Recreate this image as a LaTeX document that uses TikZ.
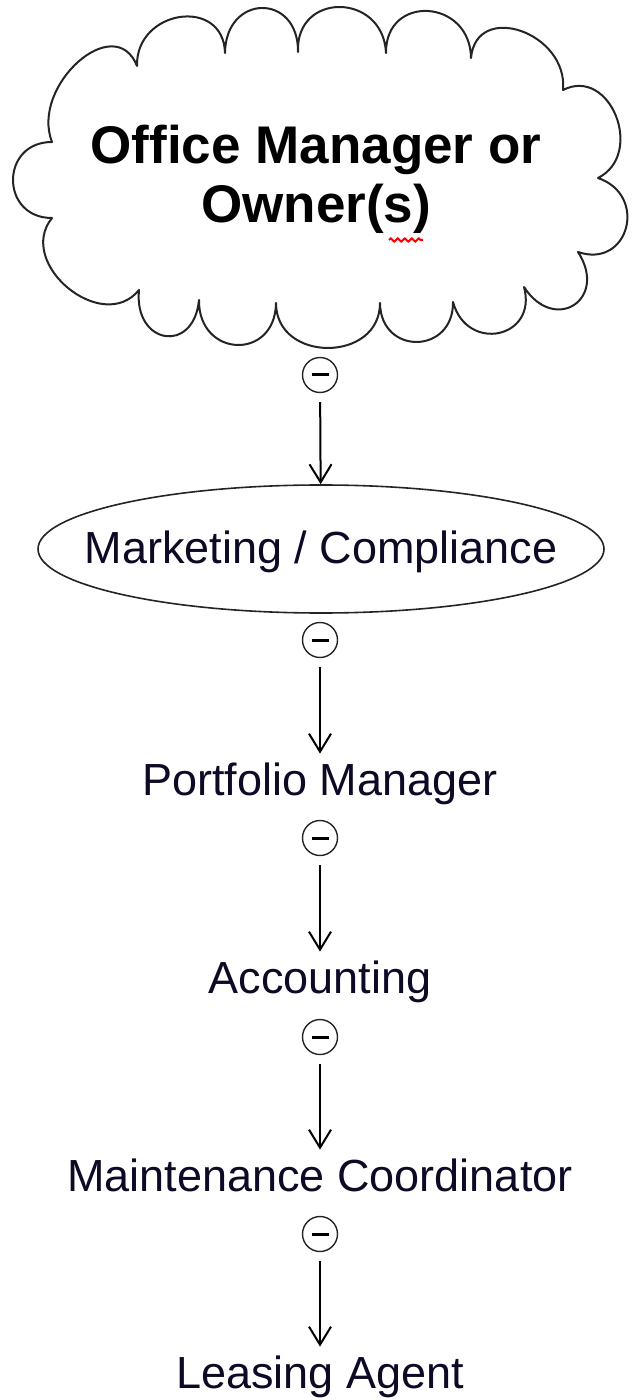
\documentclass[tikz,border=0pt]{standalone}
\usepackage{fontspec}
\setmainfont{Liberation Sans}
\usetikzlibrary{shapes.geometric,arrows.meta,calc,decorations.pathmorphing}

\definecolor{rolefg}{RGB}{12,10,36}
\definecolor{wireline}{RGB}{36,36,36}

\tikzset{
  cloudline/.style={draw=wireline, line width=1pt, line join=round},
  role/.style={font=\fontsize{22.5pt}{27pt}\selectfont, text=rolefg,
    anchor=base, inner xsep=0pt, inner ysep=4pt,
    text height=16.5pt, text depth=4.5pt},
  collapse/.style={circle, draw=wireline, line width=0.7pt,
    minimum size=17.5pt, inner sep=0pt},
  link/.style={-{Straight Barb[length=9pt,width=11pt]}, line width=1pt,
    shorten <=4.5pt},
}

\begin{document}
\begin{tikzpicture}[x=0.5pt,y=0.5pt]
        \useasboundingbox (0,0) rectangle (631,-1400);

        % cloud: cusps between the puffs
        \foreach \n/\x/\y in {1/137/66, 2/225/53, 3/298/52, 4/386/53,
            5/471/58, 6/563/90, 7/598/178, 8/578/252, 9/524/287,
            10/453/302, 11/380/303, 12/276/303, 13/199/300, 14/139/290,
            15/52/218, 16/52/142}
          \coordinate (c\n) at (\x,-\y);
        % top of each puff
        \foreach \n/\x/\y in {1/180/17, 2/262/8, 3/340/7, 4/428/11,
            5/521/31, 6/616/116, 7/626/228, 8/574/305, 9/499/333,
            10/417/342, 11/328/348, 12/237/345, 13/165/336, 14/68/288,
            15/13/180, 16/78/62}
          \coordinate (p\n) at (\x,-\y);

        \draw[cloudline] (c1)
          \foreach \i/\j in {1/2,2/3,3/4,4/5,5/6,6/7,7/8,8/9,9/10,10/11,
              11/12,12/13,13/14,14/15,15/16,16/1} {
            .. controls ($0.3333*(c\i)+1.3333*(p\i)-0.6667*(c\j)$)
            and ($0.3333*(c\j)+1.3333*(p\i)-0.6667*(c\i)$) .. (c\j)
          } -- cycle;

        \node[font=\fontsize{26.5pt}{29.5pt}\selectfont\bfseries, align=center]
          (owner) at (316,-179) {Office Manager or\\Owner(s)};
        \draw[red, line width=1pt, decorate,
          decoration={zigzag, segment length=3.5pt, amplitude=0.8pt}]
          (389,-240) -- (423,-240);

        % collapse markers
        \foreach \n/\y in {1/375, 2/640, 3/838, 4/1037, 5/1234}
          \node[collapse] (m\n) at (320,-\y) {\rule{8.5pt}{1.5pt}};

        \node[ellipse, draw=wireline, line width=0.8pt,
          minimum width=283pt, minimum height=64pt, inner sep=0pt,
          text height=16pt, text depth=2pt, text=rolefg,
          font=\fontsize{22.5pt}{27pt}\selectfont]
          (marketing) at (321,-549) {\makebox[0pt]{Marketing / Compliance}};
        \node[role] (portfolio) at (320,-795) {Portfolio Manager};
        \node[role] (accounting) at (320,-993) {Accounting};
        \node[role] (maintenance) at (320,-1191) {Maintenance Coordinator};
        \node[role] (leasing) at (320,-1388) {Leasing Agent};

        % reporting lines
        \foreach \m/\r in {m1/marketing, m2/portfolio, m3/accounting,
            m4/maintenance, m5/leasing}
          \draw[link] (\m) -- (\r);
    \end{tikzpicture}
\end{document}
